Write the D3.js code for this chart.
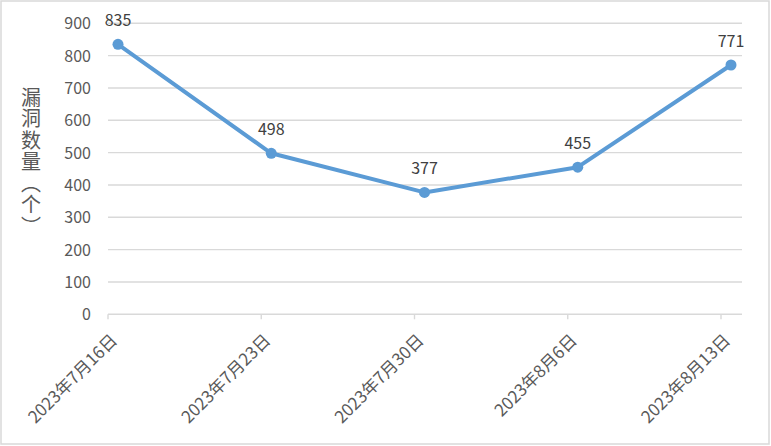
<!DOCTYPE html>
<html><head><meta charset="utf-8">
<script src="https://cdn.jsdelivr.net/npm/d3@7/dist/d3.min.js"></script>
<style>
html,body{margin:0;padding:0;background:#fff;}
svg{display:block;font-family:"Noto Sans CJK SC","Noto Sans",sans-serif;}
</style></head>
<body>
<svg id="c" width="771" height="446"></svg>
<script>
const categories = ["2023年7月16日","2023年7月23日","2023年7月30日","2023年8月6日","2023年8月13日"];
const values = [835, 498, 377, 455, 771];
const yTicks = [0,100,200,300,400,500,600,700,800,900];
const yTitle = "漏洞数量（个）";

const svg = d3.select("#c");
const W = 771, H = 446;
svg.append("rect").attr("x",1).attr("y",1).attr("width",W-3).attr("height",H-3)
  .attr("fill","#fff").attr("stroke","#d9d9d9").attr("stroke-width",1.5);

const plotL = 108, plotR = 742, plotT = 23.3, plotB = 314.3;
const x = d3.scalePoint().domain(categories).range([118, 731]);
const y = d3.scaleLinear().domain([0,900]).range([plotB, plotT]);

// gridlines
svg.append("g").selectAll("line").data(yTicks.filter(d=>d>0)).join("line")
  .attr("x1",plotL).attr("x2",plotR).attr("y1",d=>y(d)).attr("y2",d=>y(d))
  .attr("stroke","#d9d9d9").attr("stroke-width",1.4);

// y axis labels
const yAxis = d3.axisLeft(y).tickValues(yTicks).tickSize(0).tickPadding(0);
const gy = svg.append("g").attr("transform",`translate(91,0)`).call(yAxis);
gy.select(".domain").remove();
gy.selectAll("text").attr("fill","#595959").style("font-size","16px")
  .style("font-family","'Noto Sans CJK SC',sans-serif").attr("dy","0.35em");

// x axis
const xAxis = d3.axisBottom(x).tickSize(0).tickFormat(()=>"");
const gx = svg.append("g").attr("transform",`translate(0,${plotB})`).call(xAxis);
gx.select(".domain").remove();
svg.append("line").attr("x1",plotL).attr("x2",plotR).attr("y1",plotB).attr("y2",plotB)
  .attr("stroke","#d9d9d9").attr("stroke-width",1.4);
svg.append("g").selectAll("line").data(categories).join("line")
  .attr("x1",d=>x(d)-10).attr("x2",d=>x(d)-10).attr("y1",plotB).attr("y2",plotB+5)
  .attr("stroke","#d9d9d9").attr("stroke-width",1.4);

svg.append("g").selectAll("text").data(categories).join("text")
  .attr("transform",d=>`translate(${x(d)-4},${plotB+23}) rotate(-45)`)
  .attr("text-anchor","end").attr("dy","0.35em")
  .attr("fill","#595959").style("font-size","17px").text(d=>d);

// y title, vertical writing
svg.append("text").attr("x",31).attr("y",87)
  .style("writing-mode","vertical-rl").style("font-size","20px").style("letter-spacing","1.5px")
  .attr("fill","#595959").text(yTitle);

// line
const line = d3.line().x((d,i)=>x(categories[i])).y(d=>y(d));
svg.append("path").datum(values).attr("d",line).attr("fill","none")
  .attr("stroke","#5b9bd5").attr("stroke-width",4).attr("stroke-linejoin","round");
svg.append("g").selectAll("circle").data(values).join("circle")
  .attr("cx",(d,i)=>x(categories[i])).attr("cy",d=>y(d)).attr("r",5.5)
  .attr("fill","#5b9bd5");

// data labels
svg.append("g").selectAll("text").data(values).join("text")
  .attr("x",(d,i)=>x(categories[i])).attr("y",d=>y(d)-24).attr("dy","0.35em")
  .attr("text-anchor","middle").attr("fill","#404040").style("font-size","16px")
  .text(d=>d);
</script>
</body></html>
